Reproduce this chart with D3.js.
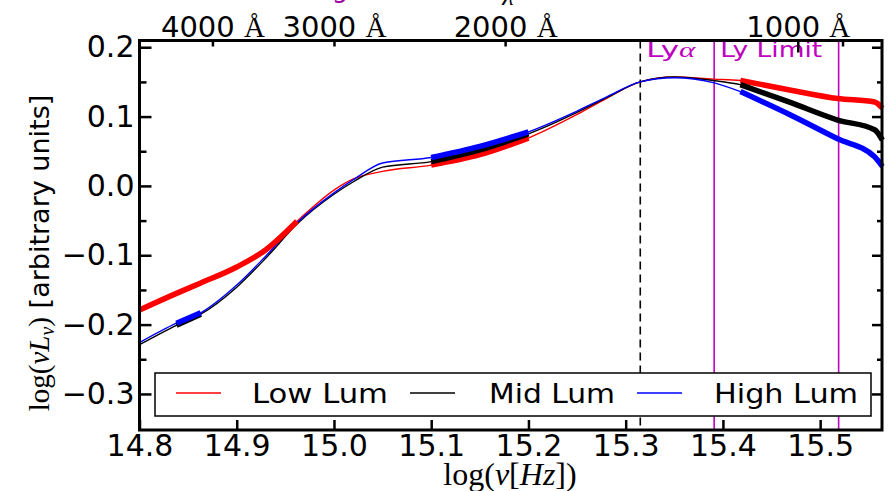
<!DOCTYPE html>
<html>
<head>
<meta charset="utf-8">
<script src="https://cdn.jsdelivr.net/npm/d3@7"></script>
<style>
  body { margin: 0; background: #fff; }
  svg text { font-family: "DejaVu Sans", sans-serif; }
  .math { font-family: "Liberation Serif", "DejaVu Serif", serif; }
</style>
</head>
<body>
<svg width="889" height="491"></svg>
<script>
// The svg
var svg = d3.select("svg"),
    width = +svg.attr("width"),
    height = +svg.attr("height");

var mLeft = 139.5, mRight = 882, mTop = 40.5, mBottom = 430;

// Data: log frequency grid and the three composite SEDs
var logNu = [14.8, 14.838, 14.863, 14.9, 14.93, 14.962, 15.0, 15.02, 15.05, 15.1, 15.15, 15.2,
             15.25, 15.28, 15.315, 15.35, 15.39, 15.418, 15.47, 15.518, 15.556, 15.564];
var lowLum  = [-0.179, -0.155, -0.140, -0.117, -0.092, -0.051, -0.006, 0.010, 0.021, 0.030, 0.045, 0.069,
               0.103, 0.126, 0.150, 0.157, 0.154, 0.152, 0.138, 0.126, 0.121, 0.112];
var midLum  = [-0.229, -0.201, -0.185, -0.146, -0.104, -0.055, -0.012, 0.006, 0.027, 0.035, 0.052, 0.075,
               0.106, 0.127, 0.150, 0.157, 0.152, 0.146, 0.120, 0.095, 0.081, 0.066];
var highLum = [-0.226, -0.198, -0.183, -0.143, -0.101, -0.053, -0.010, 0.009, 0.033, 0.041, 0.057, 0.078,
               0.108, 0.128, 0.150, 0.156, 0.149, 0.136, 0.102, 0.068, 0.042, 0.028];
var seriesNames = ["Low Lum", "Mid Lum", "High Lum"];
var seriesColors = ["#ff0000", "#000000", "#0000ff"];
// ranges drawn thick (where the sample has data)
var lowThick = [[14.8, 14.962], [15.1, 15.2], [15.418, 15.564]];
var midThick = [[14.838, 14.863], [15.1, 15.2], [15.418, 15.564]];
var highThick = [[14.838, 14.863], [15.1, 15.2], [15.418, 15.564]];

// Axis ticks
var xTicks = [14.8, 14.9, 15.0, 15.1, 15.2, 15.3, 15.4, 15.5];
var yTicks = [-0.3, -0.2, -0.1, 0.0, 0.1, 0.2];
var yMinor = [-0.25, -0.15, -0.05, 0.05, 0.15];
var wavelengths = [4000, 3000, 2000, 1000, 900];
var wavelengthLabels = ["4000 ", "3000 ", "2000 ", "1000 ", ""];
var topTicks = [14.875, 15.0, 15.176, 15.477, 15.523];

// Reference lines and their labels
var refLines = [15.315, 15.391, 15.519];
var refStyles = ["dash", "magenta", "magenta"];
var refLabels = [{x: 15.315, text: "Ly", greek: "α", w: 49}, {x: 15.391, text: "Ly Limit", greek: "", w: 102}];

var x = d3.scaleLinear().domain([14.8, 15.5636]).range([mLeft, mRight]);
var y = d3.scaleLinear().domain([-0.352, 0.2097]).range([mBottom, mTop]);

var series = [lowLum, midLum, highLum].map(function(vals, i) {
    return {
        name: seriesNames[i],
        color: seriesColors[i],
        pts: logNu.map(function(v, j) { return [v, vals[j]]; }),
        thick: [lowThick, midThick, highThick][i]
    };
});

var line = d3.line()
    .x(function(d) { return x(d[0]); })
    .y(function(d) { return y(d[1]); })
    .curve(d3.curveMonotoneX);

var plot = svg.append("g");

// reference lines
plot.selectAll(".ref")
    .data(refLines)
    .enter().append("line")
    .attr("x1", function(d) { return x(d); })
    .attr("x2", function(d) { return x(d); })
    .attr("y1", mTop)
    .attr("y2", mBottom)
    .style("stroke", function(d, i) { return refStyles[i] == "dash" ? "#000" : "#bf00bf"; })
    .style("stroke-width", 1.6)
    .style("stroke-dasharray", function(d, i) { return refStyles[i] == "dash" ? "8,5" : null; });

// thin full curves
series.forEach(function(s) {
    plot.append("path")
        .attr("d", line(s.pts))
        .style("fill", "none")
        .style("stroke", s.color)
        .style("stroke-width", 1.4);
});
// thick segments
series.forEach(function(s) {
    s.thick.forEach(function(r) {
        var seg = s.pts.filter(function(d) { return d[0] >= r[0] - 1e-9 && d[0] <= r[1] + 1e-9; });
        plot.append("path")
            .attr("d", line(seg))
            .style("fill", "none")
            .style("stroke", s.color)
            .style("stroke-width", 5.5)
            .style("stroke-linecap", "butt");
    });
});

// Ly labels (set to the right of the line before them)
refLabels.forEach(function(l) {
    var t = svg.append("text")
        .attr("x", x(l.x) + 6)
        .attr("y", 57)
        .attr("textLength", l.w)
        .attr("lengthAdjust", "spacingAndGlyphs")
        .style("font-size", "22px")
        .style("fill", "#bf00bf")
        .text(l.text);
    if (l.greek) t.append("tspan").attr("class", "math").style("font-style", "italic").text(l.greek);
});

// Axes
var fmt = d3.format(".1f");
var xAxis = svg.append("g")
    .attr("transform", "translate(0," + mBottom + ")")
    .call(d3.axisBottom(x).tickValues(xTicks).tickSize(-10).tickPadding(5).tickFormat(fmt));
var xTop = svg.append("g")
    .attr("transform", "translate(0," + mTop + ")")
    .call(d3.axisTop(x).tickValues(topTicks).tickSize(-6).tickPadding(4)
        .tickFormat(function(d, i) { return wavelengthLabels[i]; }));
xTop.selectAll(".tick line").filter(function(d, i) { return wavelengths[i] == 1000; }).attr("y2", 12);
xTop.selectAll(".tick text").filter(function(d, i) { return wavelengthLabels[i] != ""; })
    .append("tspan").attr("class", "math").text("Å");

var yAxis = svg.append("g")
    .attr("transform", "translate(" + mLeft + ",0)")
    .call(d3.axisLeft(y).tickValues(yTicks).tickSize(-12).tickPadding(5).tickFormat(fmt));
svg.append("g")
    .attr("transform", "translate(" + mLeft + ",0)")
    .call(d3.axisLeft(y).tickValues(yMinor).tickSize(-7).tickFormat(""));
svg.append("g")
    .attr("transform", "translate(" + mRight + ",0)")
    .call(d3.axisRight(y).tickValues(yTicks).tickSize(-10).tickFormat(""));
svg.append("g")
    .attr("transform", "translate(" + mRight + ",0)")
    .call(d3.axisRight(y).tickValues(yMinor).tickSize(-5).tickFormat(""));

svg.selectAll(".domain").remove();
svg.selectAll(".tick line").style("stroke", "#000").style("stroke-width", 2.5);
svg.selectAll(".tick text").style("font-family", "DejaVu Sans").style("font-size", "30px").style("fill", "#000");
xTop.selectAll(".tick text").style("font-size", "29px");

// frame
svg.append("rect")
    .attr("x", mLeft).attr("y", mTop)
    .attr("width", mRight - mLeft).attr("height", mBottom - mTop)
    .style("fill", "none").style("stroke", "#000").style("stroke-width", 3);

// Legend
var lg = svg.append("g");
lg.append("rect")
    .attr("x", 155).attr("y", 373).attr("width", 716).attr("height", 43)
    .style("fill", "#fff").style("stroke", "#000").style("stroke-width", 1.5);
var legendX = [176, 410, 637];
var legendTextX = [252, 489, 714];
var legendTextW = [136, 126, 144];
series.forEach(function(s, i) {
    lg.append("line")
        .attr("x1", legendX[i]).attr("x2", legendX[i] + 45)
        .attr("y1", 393).attr("y2", 393)
        .style("stroke", s.color).style("stroke-width", 1.5);
    lg.append("text")
        .attr("x", legendTextX[i]).attr("y", 403)
        .attr("textLength", legendTextW[i])
        .attr("lengthAdjust", "spacingAndGlyphs")
        .style("font-size", "26px")
        .text(s.name);
});

// axis titles
svg.append("text")
    .attr("class", "math")
    .attr("x", 510).attr("y", 485)
    .attr("text-anchor", "middle")
    .style("font-size", "32px")
    .html('log(<tspan font-style="italic">ν</tspan>[<tspan font-style="italic">Hz</tspan>])');

var yl = svg.append("text")
    .attr("transform", "translate(49,253) rotate(-90)")
    .attr("text-anchor", "middle")
    .style("font-size", "27px");
yl.append("tspan").attr("class", "math").style("font-size", "29px").text("log(");
yl.append("tspan").attr("class", "math").style("font-size", "29px").style("font-style", "italic").text("νL");
yl.append("tspan").attr("class", "math").style("font-style", "italic").style("font-size", "20px").attr("dy", 5).text("ν");
yl.append("tspan").attr("class", "math").style("font-size", "29px").attr("dy", -5).text(")");
yl.append("tspan").text(" [arbitrary units]");

// title fragments clipped by the top edge
svg.append("text").attr("class", "math").attr("x", 508).attr("y", 5)
    .attr("text-anchor", "middle").style("font-size", "26px").style("font-style", "italic").text("λ");
svg.append("text").attr("x", 340).attr("y", -3)
    .attr("text-anchor", "middle").style("font-size", "26px").style("fill", "#a000a0").text("g");
</script>
</body>
</html>
